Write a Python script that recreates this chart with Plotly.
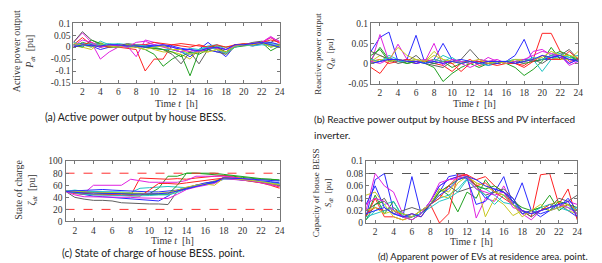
import plotly.graph_objects as go

HOURS = list(range(1, 25))
X_TICKS = list(range(2, 25, 2))

COLORS = ["#2a2aff", "#22a022", "#ff2222", "#22c4c4", "#e022e0", "#c8c822", "#606060",
          "#2a2aff", "#22a022", "#ff2222", "#22c4c4", "#e022e0", "#c8c822", "#2a2aff"]

# (a) active power output P_dt [pu]
P_DT = [
    [0.01,0.015,0.005,-0.01,0.0,0.005,0.0,0.005,0.01,0.005,0.005,-0.01,-0.02,-0.04,-0.01,0.02,-0.01,-0.04,0.005,0.01,0.005,0.015,0.01,0.005],
    [0.0,0.02,0.01,0.005,0.0,0.0,0.005,0.0,-0.01,-0.03,-0.08,-0.05,-0.03,-0.12,-0.02,0.0,0.005,0.0,0.005,0.01,0.015,0.02,-0.015,0.005],
    [0.01,0.04,0.01,0.0,0.005,0.0,-0.005,-0.01,-0.1,-0.05,-0.05,0.01,0.015,0.01,0.005,0.0,-0.005,-0.02,0.01,0.01,0.015,0.02,0.04,0.015],
    [0.02,0.01,0.0,0.025,0.01,0.015,0.01,0.005,0.0,0.0,-0.01,-0.01,-0.02,-0.005,-0.01,0.005,0.01,-0.01,0.005,0.015,0.01,0.02,0.015,0.01],
    [0.02,0.06,0.02,-0.05,-0.02,0.0,0.005,-0.04,0.03,0.02,0.01,0.0,-0.01,-0.02,-0.02,0.0,-0.005,-0.01,0.01,0.01,0.015,0.02,0.045,0.02],
    [0.005,0.0,-0.01,0.02,0.0,0.005,0.0,0.0,0.005,-0.01,-0.02,-0.02,-0.03,-0.05,-0.01,-0.02,-0.01,-0.03,0.0,0.01,0.01,0.015,0.01,0.0],
    [0.02,0.065,0.03,0.01,0.0,0.005,0.015,0.01,0.0,-0.005,-0.01,-0.03,-0.07,-0.02,-0.07,-0.01,-0.02,-0.03,0.005,0.01,0.02,0.025,0.02,0.04],
    [0.005,0.005,0.01,0.0,0.01,0.005,0.01,0.0,0.005,0.01,0.005,0.0,-0.01,-0.01,-0.02,-0.01,-0.02,-0.02,0.005,0.01,0.01,0.015,0.02,0.01],
    [0.01,0.0,0.03,0.015,0.005,0.0,0.01,0.005,0.0,-0.005,-0.01,-0.02,-0.04,-0.02,-0.03,-0.01,0.0,-0.02,0.0,0.005,0.01,0.02,0.0,0.01],
    [0.0,0.01,0.02,0.005,0.0,0.01,0.005,0.01,0.01,0.02,0.015,0.01,0.005,0.0,0.01,0.0,0.01,0.0,0.01,0.015,0.01,0.02,0.03,0.02],
    [0.01,0.005,0.015,0.01,0.015,0.01,0.0,0.01,0.005,0.0,0.005,-0.01,-0.02,-0.03,-0.01,0.0,-0.01,-0.025,0.0,0.01,0.005,0.01,0.005,0.0],
    [0.005,0.03,0.02,0.0,0.01,0.005,0.0,0.02,0.025,0.01,0.0,-0.01,-0.02,-0.01,-0.02,-0.005,0.0,-0.01,0.005,0.01,0.015,0.02,0.04,0.025],
    [0.015,0.01,0.0,0.01,0.005,0.0,0.01,0.0,-0.01,0.0,0.005,-0.01,-0.01,-0.03,-0.02,-0.02,-0.01,-0.02,0.005,0.01,0.01,0.02,0.0,0.01],
    [0.0,0.01,0.005,0.005,0.01,0.01,0.005,0.005,0.0,0.005,0.01,0.005,-0.005,-0.01,-0.015,-0.005,0.0,-0.01,0.01,0.01,0.015,0.02,0.01,0.0],
]

# (b) reactive power output Q_dt [pu]
Q_DT = [
    [0.03,0.065,0.078,0.005,0.01,0.07,0.0,0.01,0.05,0.01,0.005,0.005,0.0,0.005,0.0,0.005,0.02,0.06,0.005,0.01,0.01,0.015,0.01,0.01],
    [0.01,0.04,0.01,0.005,0.0,0.005,0.0,-0.01,-0.045,-0.025,-0.01,0.0,-0.01,0.0,0.005,0.0,-0.01,-0.03,-0.015,0.005,0.04,0.01,0.02,0.01],
    [-0.01,-0.025,0.005,0.01,0.005,0.0,0.005,0.0,-0.005,-0.02,0.0,0.01,-0.005,0.0,0.0,0.005,0.0,-0.005,0.01,0.075,0.075,0.03,0.005,0.01],
    [0.0,0.005,0.02,0.01,0.005,0.005,0.01,0.005,0.02,0.01,0.005,0.0,0.005,0.0,0.005,0.0,0.005,0.01,0.01,-0.02,0.01,0.02,0.015,0.01],
    [0.0,0.072,0.005,0.048,0.01,0.0,0.005,0.05,-0.005,0.01,0.0,-0.01,0.0,0.015,0.005,0.0,0.005,0.0,0.03,0.035,0.02,0.02,0.0,0.01],
    [0.005,0.02,0.01,0.04,0.02,0.01,0.005,0.03,0.01,0.0,0.005,0.0,0.005,0.005,0.0,0.005,0.01,0.01,0.005,0.01,0.015,0.01,0.01,0.03],
    [0.03,0.02,0.01,0.0,0.005,0.02,0.0,-0.005,-0.01,0.005,0.01,0.035,0.01,0.005,0.0,0.005,0.0,0.005,0.01,0.0,0.015,0.02,0.035,0.01],
    [0.0,0.005,0.01,0.005,0.005,0.0,0.005,0.0,0.005,0.005,0.01,0.005,0.005,-0.005,0.0,0.005,0.0,0.01,0.005,0.01,0.015,0.02,0.0,0.01],
    [0.02,0.035,0.005,0.01,0.0,0.005,0.005,0.0,0.005,-0.01,0.0,0.005,0.0,0.005,0.005,0.0,0.005,0.0,0.005,0.01,0.02,0.03,0.02,0.005],
    [0.005,0.01,0.0,0.005,0.01,0.005,0.005,0.01,0.005,0.0,-0.02,0.0,0.005,0.0,-0.005,0.0,0.0,-0.01,0.005,0.02,0.01,0.01,0.03,0.01],
    [0.01,0.005,0.015,0.005,0.005,0.01,0.0,0.01,0.005,0.015,0.0,0.005,0.0,-0.005,0.005,0.005,0.01,0.005,0.015,0.01,0.02,0.025,0.015,0.02],
    [0.005,0.0,0.01,0.01,0.005,0.005,0.01,0.005,0.0,0.01,0.005,0.0,0.01,0.005,0.01,0.0,0.005,0.01,0.02,0.03,0.025,0.02,-0.005,0.005],
    [0.0,0.01,0.005,0.01,0.005,0.01,0.005,0.02,0.01,0.005,0.0,0.005,0.01,0.0,0.005,0.0,0.01,0.005,0.01,0.015,0.03,0.02,0.02,0.015],
    [0.0,0.005,0.01,0.01,0.005,0.005,0.0,0.005,0.0,0.005,0.0,0.005,0.0,0.005,0.005,0.005,0.0,0.005,0.01,0.02,0.015,0.02,0.01,0.005],
]

# (c) state of charge zeta_dt
SOC = [
    [50,47,44,42,41,40,38,37,36,35,34,42,52,55,58,63,66,73,71,69,67,66,65,63],
    [50,51,50,48,47,47,46,46,46,46,55,75,75,80,80,79,78,77,75,73,71,70,70,69],
    [50,46,45,45,44,44,43,43,72,71,70,70,71,70,72,74,75,76,73,71,69,66,62,57],
    [50,52,50,50,50,50,49,48,55,56,57,58,57,56,60,62,65,72,71,69,67,64,62,60],
    [50,48,47,60,60,60,60,70,67,65,65,65,65,68,75,75,75,75,73,71,69,66,63,60],
    [50,48,46,45,45,46,45,44,44,45,46,45,50,55,60,63,67,72,71,69,66,64,62,59],
    [50,40,37,35,35,34,31,30,30,29,29,28,50,55,60,62,65,73,71,69,67,65,63,61],
    [50,51,52,53,53,52,51,50,50,49,49,50,52,56,60,64,66,71,71,70,69,67,66,64],
    [50,49,48,47,47,47,47,46,46,45,45,45,60,80,80,80,80,78,76,75,73,71,70,68],
    [50,48,46,45,45,45,44,43,42,52,63,63,62,64,66,68,70,72,71,69,67,64,60,55],
    [50,47,45,44,44,44,43,42,42,43,44,44,48,54,58,62,64,70,70,69,67,66,64,62],
    [50,44,41,41,40,40,40,40,39,39,38,38,45,53,57,60,63,71,70,68,67,64,61,58],
    [50,50,49,48,48,48,47,47,47,46,47,48,52,57,60,62,60,72,71,70,68,66,64,61],
    [50,48,47,47,47,46,46,45,45,45,46,47,50,54,58,62,65,72,72,71,70,69,68,67],
]
SOC_LIMITS = [20, 80]

# (d) apparent power S_dt [pu]
S_DT = [
    [0.01,0.07,0.08,0.02,0.01,0.075,0.015,0.03,0.05,0.075,0.078,0.075,0.06,0.04,0.05,0.075,0.03,0.065,0.02,0.01,0.02,0.03,0.02,0.01],
    [0.01,0.045,0.015,0.035,0.01,0.005,0.015,0.03,0.055,0.045,0.018,0.05,0.04,0.07,0.05,0.045,0.03,0.015,0.02,0.025,0.045,0.02,0.03,0.015],
    [0.01,0.04,0.01,0.01,0.005,0.01,0.02,0.03,0.0,0.015,0.08,0.078,0.07,0.075,0.06,0.05,0.03,0.02,0.01,0.078,0.08,0.03,0.055,0.005],
    [0.005,0.02,0.03,0.035,0.01,0.01,0.02,0.03,0.04,0.045,0.055,0.072,0.06,0.055,0.045,0.033,0.03,0.02,0.015,0.02,0.025,0.03,0.025,0.02],
    [0.02,0.08,0.06,0.05,0.015,0.01,0.015,0.035,0.06,0.07,0.075,0.078,0.008,0.04,0.035,0.06,0.03,0.015,0.005,0.02,0.03,0.025,0.035,0.03],
    [0.045,0.05,0.03,0.01,0.005,0.01,0.02,0.03,0.045,0.04,0.065,0.075,0.065,0.01,0.04,0.03,0.012,0.02,0.015,0.02,0.03,0.035,0.02,0.015],
    [0.02,0.03,0.04,0.015,0.02,0.025,0.02,0.03,0.05,0.06,0.05,0.055,0.06,0.045,0.05,0.055,0.04,0.02,0.01,0.02,0.025,0.04,0.035,0.045],
    [0.03,0.06,0.025,0.015,0.01,0.01,0.015,0.035,0.06,0.07,0.075,0.072,0.03,0.035,0.055,0.05,0.04,0.015,0.02,0.015,0.02,0.025,0.04,0.02],
    [0.005,0.03,0.035,0.02,0.015,0.01,0.015,0.03,0.05,0.06,0.07,0.075,0.06,0.055,0.06,0.05,0.035,0.025,0.02,0.025,0.02,0.035,0.03,0.025],
    [0.015,0.025,0.02,0.025,0.01,0.015,0.01,0.03,0.04,0.06,0.075,0.078,0.06,0.065,0.05,0.04,0.03,0.02,0.015,0.02,0.03,0.025,0.03,0.02],
    [0.01,0.015,0.02,0.025,0.015,0.01,0.015,0.025,0.035,0.04,0.05,0.07,0.055,0.045,0.03,0.045,0.03,0.02,0.015,0.025,0.03,0.025,0.02,0.025],
    [0.03,0.04,0.035,0.02,0.01,0.005,0.015,0.035,0.065,0.07,0.072,0.075,0.055,0.05,0.045,0.05,0.025,0.02,0.015,0.02,0.025,0.03,0.025,0.015],
    [0.02,0.025,0.015,0.02,0.015,0.01,0.02,0.03,0.055,0.05,0.07,0.075,0.065,0.06,0.05,0.045,0.03,0.01,0.02,0.03,0.02,0.025,0.03,0.02],
    [0.015,0.02,0.025,0.015,0.01,0.015,0.01,0.03,0.045,0.055,0.07,0.075,0.07,0.06,0.055,0.05,0.035,0.02,0.015,0.02,0.025,0.03,0.035,0.01],
]
S_LIMIT = [0.08]

Y_TICKS_A = [-0.15, -0.1, -0.05, 0, 0.05, 0.1]
Y_TEXT_A = ["-0.15", "-0.1", "-0.05", "0", "0.05", "0.1"]
Y_TICKS_B = [-0.05, 0, 0.05, 0.1]
Y_TEXT_B = ["-0.05", "0", "0.05", "0.1"]
Y_TICKS_C = [0, 20, 40, 60, 80, 100]
Y_TICKS_D = [0, 0.02, 0.04, 0.06, 0.08, 0.1]
Y_TEXT_D = ["0", "0.02", "0.04", "0.06", "0.08", "0.1"]

W, H = 602, 263
def fx(px): return px / W
def fy(py): return 1 - py / H

fig = go.Figure()

panels = [
    ("x", "y", P_DT),
    ("x2", "y2", Q_DT),
    ("x3", "y3", SOC),
    ("x4", "y4", S_DT),
]
for xa, ya, data in panels:
    for i, series in enumerate(data):
        fig.add_trace(go.Scatter(x=HOURS, y=series, mode="lines", xaxis=xa, yaxis=ya,
                                 line=dict(color=COLORS[i % len(COLORS)], width=1),
                                 showlegend=False, hoverinfo="skip"))

for lim in SOC_LIMITS:
    fig.add_trace(go.Scatter(x=[HOURS[0], HOURS[-1]], y=[lim, lim], mode="lines", xaxis="x3", yaxis="y3",
                             line=dict(color="#ff3030", width=1, dash="dash"), showlegend=False))
for lim in S_LIMIT:
    fig.add_trace(go.Scatter(x=[HOURS[0], HOURS[-1]], y=[lim, lim], mode="lines", xaxis="x4", yaxis="y4",
                             line=dict(color="#555555", width=1, dash="dash"), showlegend=False))

tickfont = dict(family="Liberation Serif", size=9.5, color="#333")
def xax(dom):
    return dict(domain=dom, range=[1, 24], tickvals=X_TICKS, ticks="inside", ticklen=3,
                showline=True, mirror="ticks", linecolor="#777", linewidth=1, tickcolor="#777",
                showgrid=False, zeroline=False, tickfont=tickfont)
def yax(dom, rng, vals, text, anchor):
    return dict(domain=dom, range=rng, tickvals=vals, ticktext=text, ticks="inside", ticklen=3,
                showline=True, mirror="ticks", linecolor="#777", linewidth=1, tickcolor="#777",
                showgrid=False, zeroline=False, tickfont=tickfont, anchor=anchor)

fig.update_layout(
    width=W, height=H, margin=dict(l=0, r=0, t=0, b=0),
    paper_bgcolor="white", plot_bgcolor="white",
    xaxis=dict(xax([fx(66), fx(274)]), anchor="y"),
    yaxis=yax([fy(72.7), fy(10.7)], [-0.15, 0.1], Y_TICKS_A, Y_TEXT_A, "x"),
    xaxis2=dict(xax([fx(366), fx(575)]), anchor="y2"),
    yaxis2=yax([fy(73.3), fy(10.7)], [-0.05, 0.1], Y_TICKS_B, Y_TEXT_B, "x2"),
    xaxis3=dict(xax([fx(58), fx(274)]), anchor="y3"),
    yaxis3=yax([fy(216.7), fy(154)], [0, 100], Y_TICKS_C, [str(v) for v in Y_TICKS_C], "x3"),
    xaxis4=dict(xax([fx(361), fx(574)]), anchor="y4"),
    yaxis4=yax([fy(218.3), fy(154)], [0, 0.1], Y_TICKS_D, Y_TEXT_D, "x4"),
)

serif = dict(family="Liberation Serif", size=10, color="#333")
def ytitle(size):
    return dict(family="Liberation Serif", size=size, color="#333")
ann = []
def A(x, y, text, font, xanchor="center", angle=0):
    ann.append(dict(x=fx(x), y=fy(y), xref="paper", yref="paper", text=text, showarrow=False,
                    font=font, xanchor=xanchor, yanchor="middle", textangle=angle, borderpad=0))
def cap(size):
    return dict(family="Lato", size=size, color="#222")

A(170, 94, "Time <i>t</i>  [h]", serif)
A(470, 94, "Time <i>t</i>  [h]", serif)
A(166, 237, "Time <i>t</i>  [h]", serif)
A(467, 238, "Time <i>t</i>  [h]", serif)

A(17, 40, "Active power output<br><i>P<sub>dt</sub></i>  [pu]", ytitle(10), angle=-90)
A(319, 42, "Reactive power output<br><i>Q<sub>dt</sub></i>  [pu]", ytitle(9), angle=-90)
A(18, 184, "State of charge<br><i>ζ<sub>dt</sub></i>  [pu]", ytitle(10), angle=-90)
A(318, 187, "Capacity of house BESS<br><i>S<sub>dt</sub></i>  [pu]", ytitle(9), angle=-90)

A(36, 108, "(a) Active power output by house BESS.", cap(10.5), xanchor="left")
A(308, 110, "(b) Reactive power output by house BESS and PV interfaced", cap(10), xanchor="left")
A(308, 127, "inverter.", cap(10), xanchor="left")
A(53, 250, "(c) State of charge of house BESS. point.", cap(10.5), xanchor="left")
A(372, 253, "(d) Apparent power of EVs at residence area. point.", cap(9.5), xanchor="left")

fig.update_layout(annotations=ann)
fig.write_html("out.html")
